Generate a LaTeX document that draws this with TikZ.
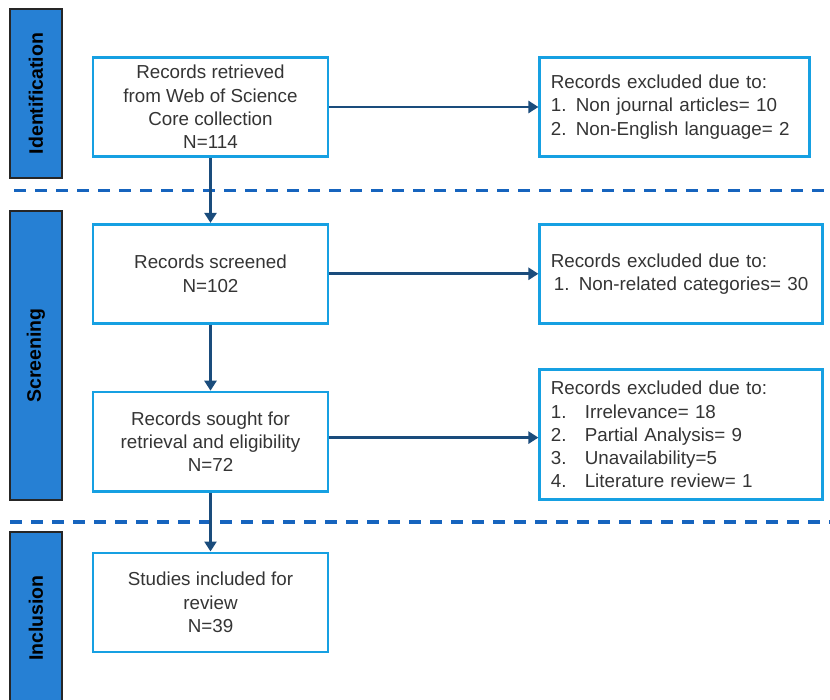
\documentclass[tikz,border=0pt]{standalone}
\usepackage{fontspec}
\setmainfont{Liberation Sans}
\usetikzlibrary{positioning, arrows.meta}

\definecolor{barblue}{RGB}{38,128,212}
\definecolor{boxblue}{RGB}{22,160,226}
\definecolor{arrowblue}{RGB}{26,76,124}
\definecolor{dashblue}{RGB}{22,100,190}
\definecolor{textgray}{RGB}{52,52,52}

\begin{document}
\begin{tikzpicture}[x=1pt, y=1pt,
	phase/.style={rectangle, draw=black!85, line width=2pt, fill=barblue, rotate=90, minimum height=52pt, inner sep=0pt, font=\fontsize{19.5}{21}\selectfont\bfseries},
	stepbox/.style={rectangle, draw=boxblue, line width=2.8pt, align=center, minimum width=235pt, minimum height=99pt, text=textgray, font=\fontsize{18.8}{23.3}\selectfont},
	exclbox/.style={rectangle, draw=boxblue, line width=2.8pt, align=left, inner xsep=11pt, minimum height=99pt, text=textgray, font=\fontsize{18.8}{23.3}\selectfont},
	flow/.style={draw=arrowblue, line width=2.6pt, -{Triangle[length=10pt, width=12pt]}},
	separator/.style={draw=dashblue, line width=3.2pt, dash pattern=on 12pt off 9pt}]
					\useasboundingbox (0,0) rectangle (830,-700);
					
					% Phases
					\node[phase, minimum width=169pt] (ident) at (36,-93.5) {Identification};
					\node[phase, minimum width=289pt] (screen) at (36,-355.5) {Screening};
					\node[phase, minimum width=172pt] (incl) at (36,-618) {Inclusion};
					
					% Separators
					\draw[separator] (14,-190.5) -- (830,-190.5);
					\draw[separator] (10,-522) -- (830,-522);
					
					% Main steps
					\node[stepbox] (retrieved) at (210.5,-107) {Records retrieved\\from Web of Science\\Core collection\\N=114};
					\node[stepbox, below=65pt of retrieved] (screened) {Records screened\\N=102};
					\node[stepbox, below=66pt of screened] (sought) {Records sought for\\retrieval and eligibility\\N=72};
					\node[stepbox, below=59pt of sought] (included) {Studies included for\\review\\N=39};
					
					% Exclusions
					\node[exclbox, text width=248pt, right=209pt of retrieved] (exclone) {Records excluded due to:\\1. Non journal articles= 10\\2. Non-English language= 2};
					\node[exclbox, text width=261pt, right=209pt of screened] (excltwo) {Records excluded due to:\\\hspace*{3pt}1. Non-related categories= 30};
					\node[exclbox, text width=261pt, minimum height=130pt, right=209pt of sought, yshift=7pt] (exclthree) {Records excluded due to:\\\makebox[34pt][l]{1.}Irrelevance= 18\\\makebox[34pt][l]{2.}Partial Analysis= 9\\\makebox[34pt][l]{3.}Unavailability=5\\\makebox[34pt][l]{4.}Literature review= 1};
					
					% Connections
					\draw[flow] (retrieved) -- (screened);
					\draw[flow] (screened) -- (sought);
					\draw[flow] (sought) -- (included);
					\draw[flow] (retrieved) -- (exclone);
					\draw[flow] (screened) -- (excltwo);
					\draw[flow] ([yshift=4pt]sought.east) -- ([yshift=4pt]sought.east -| exclthree.west);
				\end{tikzpicture}
\end{document}
